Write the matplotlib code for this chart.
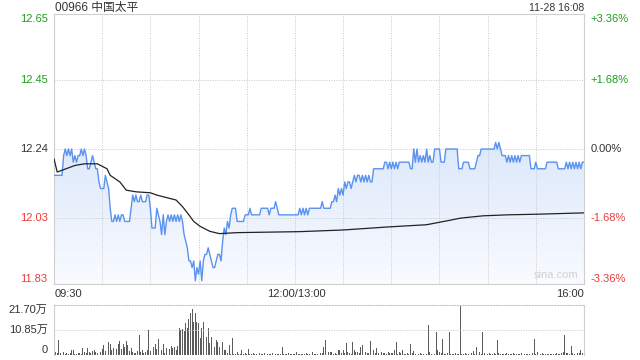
import numpy as np
import matplotlib
matplotlib.use("Agg")
import matplotlib.pyplot as plt
from matplotlib.colors import LinearSegmentedColormap
from matplotlib.patches import Polygon

plt.rcParams['font.family'] = ['Liberation Sans', 'Noto Sans CJK SC', 'DejaVu Sans']

title = "00966 中国太平"
stamp = "11-28 16:08"
prev_close = 12.24

# per-minute last price, 09:30 -> 16:00 (lunch removed)
prices = [
    12.16, 12.16, 12.16, 12.16, 12.16, 12.16, 12.22, 12.24, 12.22, 12.24,
    12.22, 12.24, 12.20, 12.22, 12.20, 12.22, 12.22, 12.24, 12.22, 12.24,
    12.22, 12.18, 12.18, 12.20, 12.22, 12.20, 12.18, 12.18, 12.14, 12.12,
    12.12, 12.12, 12.16, 12.14, 12.12, 12.06, 12.02, 12.02, 12.04, 12.02,
    12.04, 12.02, 12.04, 12.04, 12.02, 12.02, 12.02, 12.02, 12.06, 12.10,
    12.08, 12.10, 12.08, 12.08, 12.10, 12.08, 12.08, 12.08, 12.10, 12.10,
    12.06, 12.00, 12.00, 12.00, 12.06, 12.04, 12.02, 11.98, 12.04, 11.98,
    12.02, 12.04, 12.02, 12.04, 12.02, 12.04, 12.02, 12.04, 12.02, 12.04,
    12.02, 11.98, 11.96, 11.94, 11.90, 11.90, 11.88, 11.90, 11.84, 11.88,
    11.86, 11.90, 11.84, 11.90, 11.92, 11.92, 11.94, 11.92, 11.90, 11.88,
    11.88, 11.90, 11.92, 11.92, 11.90, 11.96, 12.00, 11.98, 12.02, 12.00,
    12.04, 12.06, 12.06, 12.06, 12.02, 12.02, 12.02, 12.02, 12.02, 12.04,
    12.04, 12.04, 12.06, 12.04, 12.04, 12.04, 12.04, 12.04, 12.04, 12.06,
    12.06, 12.06, 12.06, 12.06, 12.04, 12.06, 12.06, 12.06, 12.08, 12.06,
    12.04, 12.04, 12.04, 12.04, 12.04, 12.04, 12.04, 12.04, 12.04, 12.04,
    12.04, 12.04, 12.04, 12.06, 12.04, 12.06, 12.04, 12.06, 12.04, 12.06,
    12.06, 12.06, 12.06, 12.06, 12.06, 12.06, 12.06, 12.08, 12.06, 12.06,
    12.06, 12.06, 12.06, 12.08, 12.08, 12.10, 12.08, 12.12, 12.10, 12.12,
    12.10, 12.14, 12.12, 12.14, 12.14, 12.12, 12.14, 12.16, 12.14, 12.16,
    12.16, 12.14, 12.16, 12.14, 12.16, 12.14, 12.16, 12.14, 12.14, 12.18,
    12.18, 12.18, 12.18, 12.18, 12.18, 12.18, 12.20, 12.20, 12.18, 12.20,
    12.18, 12.20, 12.18, 12.20, 12.18, 12.20, 12.20, 12.20, 12.20, 12.20,
    12.20, 12.20, 12.18, 12.18, 12.24, 12.20, 12.24, 12.20, 12.22, 12.20,
    12.22, 12.20, 12.24, 12.20, 12.22, 12.20, 12.20, 12.24, 12.24, 12.24,
    12.24, 12.20, 12.20, 12.20, 12.24, 12.24, 12.24, 12.24, 12.24, 12.24,
    12.24, 12.24, 12.18, 12.18, 12.18, 12.20, 12.20, 12.20, 12.20, 12.18,
    12.18, 12.18, 12.18, 12.20, 12.22, 12.22, 12.24, 12.24, 12.24, 12.24,
    12.24, 12.24, 12.24, 12.24, 12.24, 12.26, 12.24, 12.26, 12.24, 12.22,
    12.22, 12.22, 12.20, 12.22, 12.20, 12.22, 12.20, 12.22, 12.20, 12.22,
    12.20, 12.22, 12.22, 12.22, 12.22, 12.22, 12.22, 12.18, 12.18, 12.18,
    12.20, 12.18, 12.18, 12.18, 12.18, 12.18, 12.18, 12.20, 12.20, 12.20,
    12.20, 12.20, 12.20, 12.20, 12.18, 12.18, 12.18, 12.18, 12.18, 12.20,
    12.18, 12.20, 12.18, 12.20, 12.18, 12.20, 12.18, 12.20, 12.18, 12.20,
    12.20,
]

# average price line, read at a few minutes
avg_minutes = [0, 2, 13, 19, 27, 29, 33, 35, 38, 41, 45, 51, 60, 64, 68, 76,
               80, 84, 87, 91, 97, 103, 114, 153, 180, 207, 232, 247, 253,
               267, 282, 301, 330]
avg_prices = [12.21, 12.17, 12.19, 12.195, 12.195, 12.19, 12.18, 12.16, 12.15,
              12.14, 12.115, 12.11, 12.107, 12.10, 12.095, 12.085, 12.065,
              12.04, 12.02, 12.005, 11.99, 11.983, 11.986, 11.989, 11.994,
              12.003, 12.01, 12.024, 12.03, 12.037, 12.04, 12.042, 12.046]

# per-minute volume, in 万 shares
volumes = [
    5.1, 1.2, 0.8, 6.5, 1.0, 0.6, 1.4, 0.5, 0.9, 0.4,
    0.7, 2.0, 2.2, 0.6, 0.4, 0.8, 1.0, 0.5, 2.9, 1.1,
    0.9, 3.2, 1.4, 0.8, 1.6, 2.0, 1.2, 0.9, 5.8, 1.5,
    2.4, 4.3, 1.8, 2.6, 5.5, 4.9, 2.0, 3.0, 6.1, 2.5,
    4.9, 6.1, 2.8, 4.9, 3.3, 6.1, 4.3, 1.8, 2.9, 1.2,
    1.0, 0.8, 1.6, 8.7, 1.2, 2.2, 0.9, 1.5, 2.0, 10.9,
    1.6, 5.8, 3.6, 4.9, 2.6, 6.8, 1.4, 2.0, 4.9, 1.0,
    2.9, 3.3, 2.5, 4.0, 2.9, 3.6, 2.2, 4.0, 11.6, 10.9,
    11.3, 10.6, 13.7, 11.6, 15.5, 18.1, 19.8, 14.5, 18.1, 14.5,
    13.7, 7.2, 11.6, 14.5, 9.4, 8.0, 11.6, 5.0, 8.0, 3.0,
    3.6, 6.5, 5.8, 3.6, 2.9, 5.8, 2.2, 2.2, 1.0, 4.3,
    0.6, 7.2, 0.5, 0.4, 1.2, 0.6, 0.3, 2.2, 0.5, 0.8,
    0.4, 2.6, 0.3, 0.5, 0.8, 0.4, 0.6, 0.3, 0.9, 0.5,
    0.4, 0.7, 0.3, 0.6, 0.5, 0.4, 0.8, 0.3, 0.5, 0.4,
    0.6, 0.5, 3.6, 0.4, 0.3, 0.5, 0.7, 0.4, 0.3, 0.6,
    0.4, 1.4, 0.5, 0.3, 0.6, 0.4, 0.5, 0.7, 0.3, 0.4,
    0.5, 1.4, 0.6, 0.4, 0.5, 0.3, 0.8, 0.9, 3.6, 6.5,
    1.0, 1.4, 1.2, 1.4, 0.6, 0.8, 0.5, 2.2, 2.2, 0.7,
    2.2, 0.9, 5.0, 1.1, 0.8, 0.6, 5.8, 2.2, 1.4, 1.4,
    0.9, 3.6, 4.3, 1.0, 1.4, 0.8, 0.7, 6.1, 1.2, 2.2,
    0.9, 2.9, 1.0, 0.6, 1.4, 0.8, 1.0, 0.6, 1.4, 0.7,
    1.0, 0.8, 2.2, 5.8, 0.6, 1.4, 1.0, 2.2, 0.6, 0.4,
    0.7, 0.5, 4.8, 0.9, 1.7, 0.5, 0.4, 0.6, 1.0, 0.5,
    0.4, 0.6, 0.5, 13.0, 1.4, 0.5, 0.7, 0.4, 10.1, 2.2,
    1.4, 1.0, 6.9, 0.6, 0.5, 0.8, 10.1, 0.4, 0.6, 0.5,
    0.7, 0.4, 0.6, 21.7, 0.5, 0.4, 1.0, 0.6, 0.5, 1.0,
    0.7, 1.7, 0.5, 3.6, 3.2, 1.4, 0.6, 10.1, 1.0, 0.7,
    0.5, 1.0, 0.6, 0.4, 0.8, 0.5, 6.5, 0.9, 0.4, 0.6,
    0.5, 0.4, 0.7, 0.6, 0.3, 0.5, 0.8, 0.4, 0.6, 0.5,
    0.3, 0.7, 0.4, 0.5, 0.6, 0.4, 0.3, 0.5, 0.8, 6.9,
    0.6, 1.4, 0.5, 0.4, 0.7, 0.3, 0.5, 0.6, 0.4, 0.5,
    0.6, 0.4, 0.3, 0.7, 0.5, 0.6, 1.0, 1.4, 8.7, 1.0,
    0.7, 0.5, 3.9, 0.8, 0.6, 0.5, 0.9, 0.7, 2.2, 1.0,
    10.6,
]

price_ticks = [12.65, 12.45, 12.24, 12.03, 11.83]
pct_labels = ["+3.36%", "+1.68%", "0.00%", "-1.68%", "-3.36%"]
vol_ticks = [21.70, 10.85, 0]
vol_labels = ["21.70万", "10.85万", "0"]
time_labels = ["09:30", "12:00/13:00", "16:00"]

green = '#1d9e1d'
red = '#ef3a3a'
dark = '#333333'
grid_c = '#c8c8c8'

minutes = np.arange(len(prices))
n_min = 330

fig = plt.figure(figsize=(6.4, 3.6), dpi=100)
ax = fig.add_axes([54 / 640, 1 - 284 / 360, 530 / 640, 270 / 360])
axv = fig.add_axes([54 / 640, 1 - 355 / 360, 530 / 640, 50 / 360])

lo, hi = price_ticks[-1], price_ticks[0]
ax.set_xlim(0, n_min)
ax.set_ylim(lo, hi)

# gradient fill under price
cmap = LinearSegmentedColormap.from_list('fade', ['#f9fbff', '#dce8fb'])
grad = np.linspace(0, 1, 256).reshape(-1, 1)
img = ax.imshow(grad, extent=[0, n_min, lo, max(prices)], origin='lower',
                aspect='auto', cmap=cmap, zorder=1)
verts = np.vstack([[0, lo], np.column_stack([minutes, prices]), [minutes[-1], lo]])
clip = Polygon(verts, closed=True, facecolor='none', edgecolor='none')
ax.add_patch(clip)
img.set_clip_path(clip)

ax.plot(minutes, prices, color='#5a92f0', lw=1.0, zorder=3)
ax.plot(avg_minutes, avg_prices, color='#222222', lw=0.9, zorder=3)

# grid
for k in range(1, 11):
    ax.axvline(k * 30, color=grid_c, lw=0.7, ls=(0, (1, 1.5)), zorder=2)
for p in price_ticks[1:-1]:
    ax.axhline(p, color=grid_c, lw=0.7, ls=(0, (1, 1.5)), zorder=2)

ax.set_xticks([])
ax.set_yticks([])
for s in ax.spines.values():
    s.set_color('#cfcfcf')
    s.set_linewidth(0.8)

# price labels left and percent labels right
colors = [green, green, dark, red, red]
for i, p in enumerate(price_ticks):
    va = 'center'
    if i == 0:
        va = 'top'
    if i == len(price_ticks) - 1:
        va = 'bottom'
    ax.text(-0.012, p, f"{p:.2f}", transform=ax.get_yaxis_transform(),
            ha='right', va=va, fontsize=8, color=colors[i])
    ax.text(1.012, p, pct_labels[i], transform=ax.get_yaxis_transform(),
            ha='left', va=va, fontsize=8, color=colors[i])

ax.text(0.002, -0.02, time_labels[0], transform=ax.transAxes, ha='left', va='top',
        fontsize=8, color=dark)
ax.text(150 / n_min + 0.003, -0.02, time_labels[1], transform=ax.transAxes,
        ha='center', va='top', fontsize=8, color=dark)
ax.text(1.0, -0.02, time_labels[2], transform=ax.transAxes, ha='right', va='top',
        fontsize=8, color=dark)

ax.text(0.99, 0.015, "sina.com", transform=ax.transAxes, ha='right', va='bottom',
        fontsize=8, color='#d0d0d0')

fig.text(55 / 640, 1 - 8 / 360, title, ha='left', va='center', fontsize=8.5, color=dark)
fig.text(584 / 640, 1 - 8 / 360, stamp, ha='right', va='center', fontsize=7.5, color=dark)

# volume panel
axv.bar(minutes, volumes, width=0.55, color='#5c5c5c', linewidth=0)
axv.set_xlim(0, n_min)
axv.set_ylim(0, vol_ticks[0])
axv.axhline(vol_ticks[1], color=grid_c, lw=0.7, ls=(0, (1, 1.5)))
axv.set_xticks([])
axv.set_yticks([])
axv.spines['top'].set_linestyle((0, (1, 1.5)))
axv.spines['top'].set_color(grid_c)
axv.spines['bottom'].set_visible(False)
for side in ['left', 'right']:
    axv.spines[side].set_color('#cfcfcf')
    axv.spines[side].set_linewidth(0.8)

for v, lab in zip(vol_ticks, vol_labels):
    va = 'center'
    if v == vol_ticks[0]:
        va = 'top'
    if v == 0:
        va = 'bottom'
    axv.text(-0.012, v, lab, transform=axv.get_yaxis_transform(), ha='right',
             va=va, fontsize=8, color=dark)

fig.savefig("out.png", dpi=100, facecolor='white')
